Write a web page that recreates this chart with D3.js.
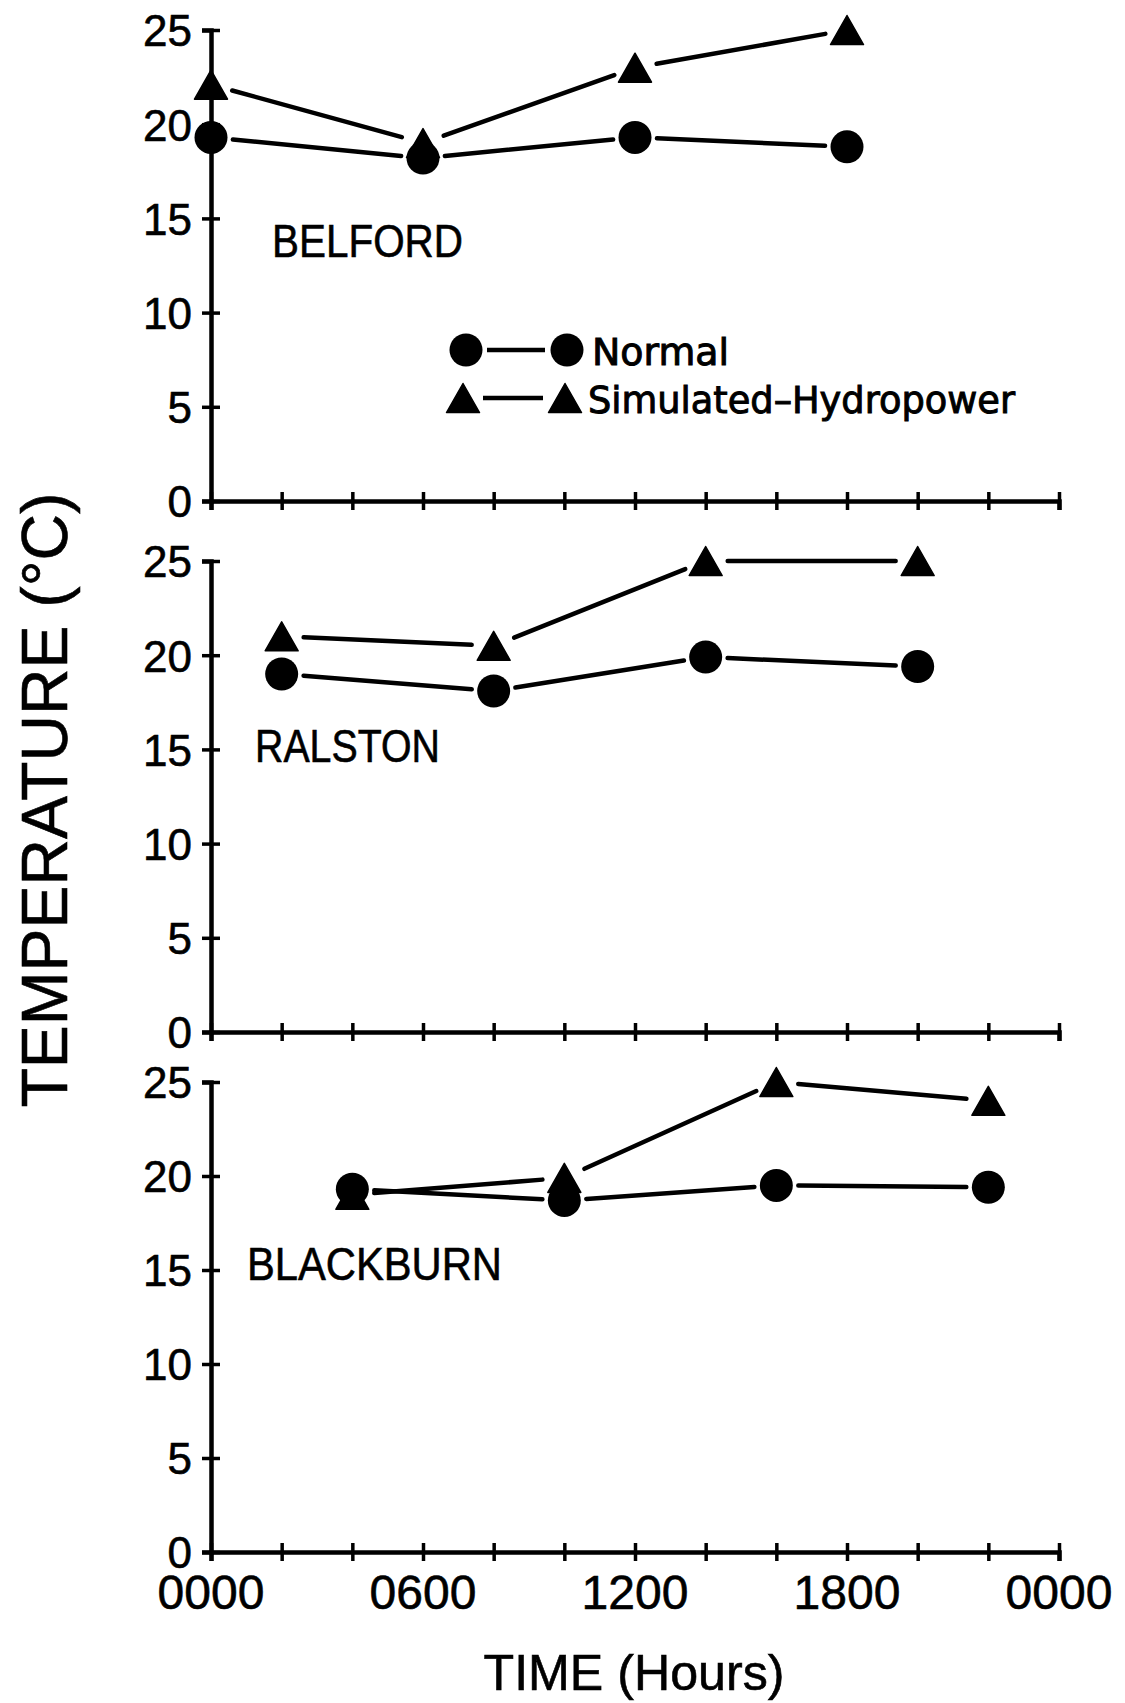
<!DOCTYPE html>
<html>
<head>
<meta charset="utf-8">
<script src="https://cdn.jsdelivr.net/npm/d3@7"></script>
<style>
  html, body { margin: 0; padding: 0; background: #fff; }
  svg { display: block; }
  text { stroke: #000; stroke-width: 0.6px; }
</style>
</head>
<body>
<svg id="chart" width="1125" height="1703"></svg>
<script>
'use strict';

// Data (temperature in degrees C, time in hours)
const siteNames = ['BELFORD', 'RALSTON', 'BLACKBURN'];

const belfordHours = [0, 6, 12, 18];
const belfordNormal = [19.3, 18.2, 19.3, 18.8];
const belfordHydro = [22.1, 19.0, 23.0, 25.0];

const ralstonHours = [2, 8, 14, 20];
const ralstonNormal = [19.0, 18.1, 19.9, 19.4];
const ralstonHydro = [21.0, 20.5, 25.0, 25.0];

const blackburnHours = [4, 10, 16, 22];
const blackburnNormal = [19.3, 18.7, 19.5, 19.4];
const blackburnHydro = [19.0, 19.9, 25.0, 24.0];

const seriesNames = ['Normal', 'Simulated\u2013Hydropower'];
const yTickValues = [0, 5, 10, 15, 20, 25];
const xTickValues = [0, 2, 4, 6, 8, 10, 12, 14, 16, 18, 20, 22, 24];
const xLabelHours = [0, 6, 12, 18, 24];
const xLabels = ['0000', '0600', '1200', '1800', '0000'];

const panels = [
    { name: siteNames[0], hours: belfordHours, normal: belfordNormal, hydro: belfordHydro },
    { name: siteNames[1], hours: ralstonHours, normal: ralstonNormal, hydro: ralstonHydro },
    { name: siteNames[2], hours: blackburnHours, normal: blackburnNormal, hydro: blackburnHydro }
];

// layout
const axisLeft = 211;
const axisRight = 1059;
const panelBounds = [[30, 501], [561, 1032], [1082, 1552]];
const siteLabelPos = [
    { x: 272, y: 257, w: 191 },
    { x: 255, y: 762, w: 185 },
    { x: 247, y: 1280, w: 255 }
];
const GAP = 22;
const R = 16.5;
const TRI = 'M0,-14.5L16.5,14.5L-16.5,14.5Z';

const svg = d3.select('#chart');
const x = d3.scaleLinear().domain([0, 24]).range([axisLeft, axisRight]);

panels.forEach((panel, i) => drawPanel(panel, i));
drawLegend();
drawTitles();

function drawPanel(panel, i) {
    const [top, bottom] = panelBounds[i];
    const y = d3.scaleLinear().domain([0, 25]).range([bottom, top]);
    const g = svg.append('g');
    const isLast = i === panels.length - 1;

    // y axis
    const yAxis = g.append('g')
        .attr('transform', `translate(${axisLeft},0)`)
        .call(d3.axisLeft(y).tickValues(yTickValues).tickSizeOuter(0).tickSize(9).tickPadding(18));
    styleAxis(yAxis);
    yAxis.selectAll('.tick line').attr('x1', -9).attr('x2', 9);
    yAxis.selectAll('.tick text')
        .attr('x', -19)
        .attr('dy', '0.36em')
        .style('font-family', '"Liberation Sans", Arial, sans-serif')
        .style('font-size', '44px');

    // x axis
    const xAxis = g.append('g')
        .attr('transform', `translate(0,${bottom})`)
        .call(d3.axisBottom(x).tickValues(xTickValues).tickSizeOuter(0).tickSize(9).tickFormat(''));
    styleAxis(xAxis);
    xAxis.selectAll('.tick line').attr('y1', -9).attr('y2', 9);

    if (isLast) {
        g.append('g').selectAll('text')
            .data(xLabelHours)
            .join('text')
            .attr('x', d => x(d))
            .attr('y', bottom + 57)
            .attr('text-anchor', 'middle')
            .style('font-family', '"Liberation Sans", Arial, sans-serif')
            .style('font-size', '48px')
            .text((d, k) => xLabels[k]);
    }

    // site label
    const lp = siteLabelPos[i];
    g.append('text')
        .attr('x', lp.x)
        .attr('y', lp.y)
        .attr('textLength', lp.w)
        .attr('lengthAdjust', 'spacingAndGlyphs')
        .style('font-family', '"Liberation Sans", Arial, sans-serif')
        .style('font-size', '46px')
        .text(panel.name);

    const normalPts = panel.hours.map((h, k) => [x(h), y(panel.normal[k])]);
    const hydroPts = panel.hours.map((h, k) => [x(h), y(panel.hydro[k])]);

    drawSegments(g, hydroPts);
    drawSegments(g, normalPts);

    g.append('g').selectAll('path')
        .data(hydroPts)
        .join('path')
        .attr('d', TRI)
        .attr('transform', d => `translate(${d[0]},${d[1]})`)
        .attr('fill', '#000')
        .attr('stroke', '#000')
        .attr('stroke-width', 1.5)
        .attr('stroke-linejoin', 'round');

    g.append('g').selectAll('circle')
        .data(normalPts)
        .join('circle')
        .attr('cx', d => d[0])
        .attr('cy', d => d[1])
        .attr('r', R)
        .attr('fill', '#000');
}

function styleAxis(sel) {
    sel.select('.domain').attr('stroke', '#000').attr('stroke-width', 4.5);
    sel.selectAll('.tick line').attr('stroke', '#000').attr('stroke-width', 3.5);
    sel.selectAll('.tick text').attr('fill', '#000');
}

// lines stop short of the markers, as in the original
function drawSegments(g, pts) {
    const segs = d3.pairs(pts).map(([p, q]) => {
        const dx = q[0] - p[0];
        const dy = q[1] - p[1];
        const len = Math.hypot(dx, dy);
        const ux = dx / len, uy = dy / len;
        return [[p[0] + ux * GAP, p[1] + uy * GAP], [q[0] - ux * GAP, q[1] - uy * GAP]];
    });

    g.append('g').selectAll('path')
        .data(segs)
        .join('path')
        .attr('d', d3.line())
        .attr('fill', 'none')
        .attr('stroke', '#000')
        .attr('stroke-width', 4.5)
        .attr('stroke-linecap', 'round');
}

function drawLegend() {
    const g = svg.append('g');
    const font = '"DejaVu Sans", Verdana, sans-serif';

    // Normal
    g.append('circle').attr('cx', 466).attr('cy', 350).attr('r', R);
    g.append('circle').attr('cx', 567).attr('cy', 350).attr('r', R);
    g.append('line')
        .attr('x1', 487).attr('x2', 545).attr('y1', 350).attr('y2', 350)
        .attr('stroke', '#000').attr('stroke-width', 4.5);
    g.append('text')
        .attr('x', 592).attr('y', 365)
        .attr('textLength', 137)
        .attr('lengthAdjust', 'spacingAndGlyphs')
        .style('font-family', font)
        .style('font-size', '38px')
        .style('stroke-width', '1px')
        .text(seriesNames[0]);

    // Simulated-Hydropower
    [463, 565].forEach(cx => {
        g.append('path')
            .attr('d', TRI)
            .attr('transform', `translate(${cx},398)`)
            .attr('stroke', '#000')
            .attr('stroke-width', 1.5)
            .attr('stroke-linejoin', 'round');
    });
    g.append('line')
        .attr('x1', 483).attr('x2', 543).attr('y1', 398).attr('y2', 398)
        .attr('stroke', '#000').attr('stroke-width', 4.5);
    g.append('text')
        .attr('x', 588).attr('y', 413)
        .attr('textLength', 427)
        .attr('lengthAdjust', 'spacingAndGlyphs')
        .style('font-family', font)
        .style('font-size', '38px')
        .style('stroke-width', '1px')
        .text(seriesNames[1]);
}

function drawTitles() {
    svg.append('text')
        .attr('x', (axisLeft + axisRight) / 2 - 1)
        .attr('y', 1690)
        .attr('text-anchor', 'middle')
        .attr('textLength', 301)
        .attr('lengthAdjust', 'spacingAndGlyphs')
        .style('font-family', '"Liberation Sans", Arial, sans-serif')
        .style('font-size', '50px')
        .text('TIME (Hours)');

    svg.append('text')
        .attr('transform', 'translate(67,800) rotate(-90)')
        .attr('text-anchor', 'middle')
        .attr('textLength', 615)
        .attr('lengthAdjust', 'spacingAndGlyphs')
        .style('font-family', '"Liberation Sans", Arial, sans-serif')
        .style('font-size', '65px')
        .text('TEMPERATURE (\u00B0C)');
}
</script>
</body>
</html>
